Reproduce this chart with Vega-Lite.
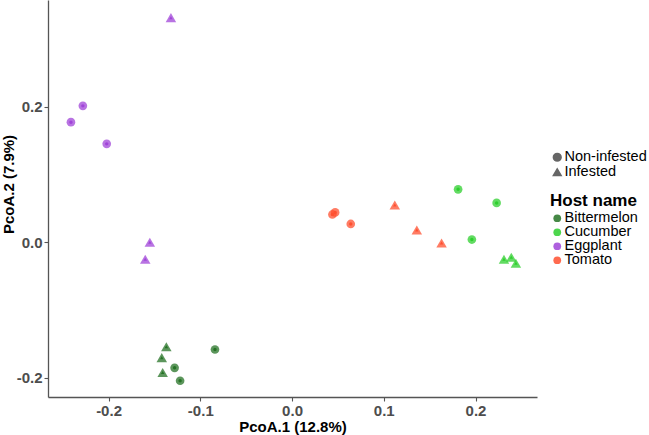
{
  "$schema": "https://vega.github.io/schema/vega-lite/v6.json",
  "width": 489,
  "height": 397,
  "autosize": {"type": "none"},
  "padding": {"left": 48, "top": 0, "right": 112, "bottom": 38},
  "background": "white",
  "config": {"view": {"stroke": null}, "font": "Liberation Sans"},
  "data": {
    "values": [
      {"host": "Eggplant", "status": "Infested", "x": -0.132, "y": 0.331},
      {"host": "Eggplant", "status": "Non-infested", "x": -0.241, "y": 0.177},
      {"host": "Eggplant", "status": "Non-infested", "x": -0.228, "y": 0.201},
      {"host": "Eggplant", "status": "Non-infested", "x": -0.202, "y": 0.145},
      {"host": "Eggplant", "status": "Infested", "x": -0.155, "y": 0.0},
      {"host": "Eggplant", "status": "Infested", "x": -0.16, "y": -0.025},
      {"host": "Bittermelon", "status": "Infested", "x": -0.137, "y": -0.154},
      {"host": "Bittermelon", "status": "Infested", "x": -0.142, "y": -0.17},
      {"host": "Bittermelon", "status": "Infested", "x": -0.141, "y": -0.192},
      {"host": "Bittermelon", "status": "Non-infested", "x": -0.128, "y": -0.185},
      {"host": "Bittermelon", "status": "Non-infested", "x": -0.122, "y": -0.204},
      {"host": "Bittermelon", "status": "Non-infested", "x": -0.084, "y": -0.158},
      {"host": "Cucumber", "status": "Non-infested", "x": 0.181, "y": 0.078},
      {"host": "Cucumber", "status": "Non-infested", "x": 0.223, "y": 0.058},
      {"host": "Cucumber", "status": "Non-infested", "x": 0.196, "y": 0.004},
      {"host": "Cucumber", "status": "Infested", "x": 0.231, "y": -0.025},
      {"host": "Cucumber", "status": "Infested", "x": 0.239, "y": -0.022},
      {"host": "Cucumber", "status": "Infested", "x": 0.244, "y": -0.031},
      {"host": "Tomato", "status": "Non-infested", "x": 0.044, "y": 0.041},
      {"host": "Tomato", "status": "Non-infested", "x": 0.047, "y": 0.044},
      {"host": "Tomato", "status": "Non-infested", "x": 0.064, "y": 0.027},
      {"host": "Tomato", "status": "Infested", "x": 0.112, "y": 0.055},
      {"host": "Tomato", "status": "Infested", "x": 0.136, "y": 0.018},
      {"host": "Tomato", "status": "Infested", "x": 0.163, "y": -0.001}
    ]
  },
  "encoding": {
    "x": {
      "field": "x", "type": "quantitative",
      "scale": {"domain": [-0.266, 0.267], "nice": false, "zero": false},
      "axis": {
        "title": "PcoA.1 (12.8%)",
        "values": [-0.2, -0.1, 0, 0.1, 0.2],
        "labelExpr": "replace(format(datum.value, '.1f'), '\u2212', '-')",
        "grid": false,
        "domainColor": "#555555", "domainWidth": 1.3,
        "tickColor": "#555555", "tickSize": 4, "tickWidth": 1.1,
        "labelFontSize": 15, "labelFontWeight": "bold", "labelColor": "#4D4D4D", "labelPadding": 2,
        "titleFontSize": 15, "titleFontWeight": "bold", "titleColor": "black", "titlePadding": 1
      }
    },
    "y": {
      "field": "y", "type": "quantitative",
      "scale": {"domain": [-0.228, 0.357], "nice": false, "zero": false},
      "axis": {
        "title": "PcoA.2 (7.9%)",
        "values": [-0.2, 0, 0.2],
        "labelExpr": "replace(format(datum.value, '.1f'), '\u2212', '-')",
        "grid": false,
        "domainColor": "#555555", "domainWidth": 1.3,
        "tickColor": "#555555", "tickSize": 4, "tickWidth": 1.1,
        "labelFontSize": 15, "labelFontWeight": "bold", "labelColor": "#4D4D4D", "labelPadding": 2,
        "titleFontSize": 15, "titleFontWeight": "bold", "titleColor": "black", "titlePadding": 0,
        "titleY": 184
      }
    },
    "color": {
      "field": "host", "type": "nominal",
      "scale": {"domain": ["Bittermelon", "Cucumber", "Eggplant", "Tomato"], "range": ["#267326", "#2ECF2E", "#A044D8", "#FF5030"]},
      "legend": {
        "title": "Host name", "orient": "none", "legendX": 502, "legendY": 193,
        "symbolType": "circle", "symbolSize": 60, "symbolOpacity": 0.85,
        "titleFontSize": 17, "titleFontWeight": "bold", "titleColor": "black", "titlePadding": 1,
        "labelFontSize": 14.5, "labelColor": "black", "labelOffset": 0, "rowPadding": -3
      }
    },
    "shape": {
      "field": "status", "type": "nominal",
      "scale": {"domain": ["Non-infested", "Infested"], "range": ["circle", "triangle-up"]},
      "legend": {
        "title": null, "orient": "none", "legendX": 502, "legendY": 150,
        "symbolSize": 60, "symbolFillColor": "#333333", "symbolStrokeColor": "#333333",
        "labelFontSize": 14.5, "labelColor": "black", "labelOffset": 0, "rowPadding": -3,
        "encode": {"symbols": {"update": {"fill": {"value": "#333333"}, "stroke": {"value": "#333333"}}}}
      }
    }
  },
  "layer": [
    {
      "transform": [{"filter": "datum.status == 'Non-infested'"}],
      "mark": {"type": "point", "filled": true, "size": 75, "opacity": 0.75}
    },
    {
      "transform": [{"filter": "datum.status == 'Infested'"}],
      "mark": {"type": "point", "filled": true, "size": 110, "opacity": 0.75}
    },
    {"mark": {"type": "point", "filled": true, "size": 12, "opacity": 1}}
  ]
}
